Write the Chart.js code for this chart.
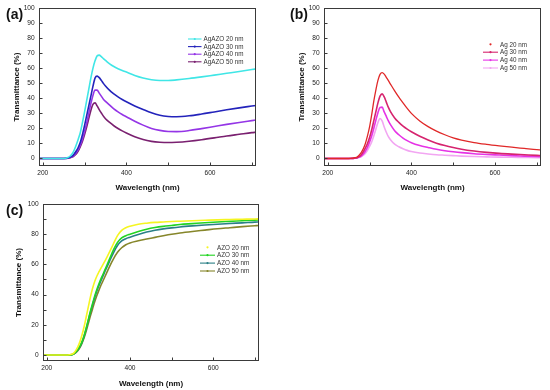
<!DOCTYPE html>
<html><head><meta charset="utf-8">
<script src="https://cdn.jsdelivr.net/npm/chart.js@4.4.1/dist/chart.umd.min.js"></script>
<style>
html,body{margin:0;padding:0;background:#fff;}
#wrap{position:relative;width:550px;height:390px;overflow:hidden;background:#fff;}
canvas{position:absolute;}
.pl{position:absolute;font:bold 14px "Liberation Sans",Arial,sans-serif;color:#111;line-height:14px;}
</style></head><body>
<div id="wrap">
<canvas id="ca" width="265" height="195" style="left:0px;top:0px"></canvas>
<canvas id="cb" width="265" height="195" style="left:285px;top:0px"></canvas>
<canvas id="cc" width="268" height="195" style="left:0px;top:195px"></canvas>
<div class="pl" style="left:6px;top:7px">(a)</div>
<div class="pl" style="left:290px;top:7px">(b)</div>
<div class="pl" style="left:6px;top:203px">(c)</div>
</div>
<script>
// ---------- data ----------
const wavelength = [190,250,260,265,270,275,280,285,290,295,300,305,310,315,320,325,330,335,340,345,350,360,370,380,390,400,420,440,460,480,500,520,550,580,610,640,670,700,710];

// (a) AgAZO
const agazoLabels = ['AgAZO 20 nm','AgAZO 30 nm','AgAZO 40 nm','AgAZO 50 nm'];
const agazo20 = [0,0,0.6,1.5,3,5.5,9,13,17.5,24,31,38.5,46,53.5,60,65,68.3,68.8,67.8,66.5,65.3,63,61.2,59.8,58.6,57.5,55.3,53.6,52.4,51.9,51.9,52.3,53.2,54.3,55.5,56.7,57.9,59.2,59.6];
const agazo30 = [0,0,0.3,0.8,1.5,3,5,7.5,11,16,22,28.5,35,41.5,48,53.5,54.8,53.8,52,50,48.3,45.3,43,41,39.3,37.8,35,32.6,30.4,28.8,28,27.8,28.4,29.6,31,32.4,33.7,34.9,35.3];
const agazo40 = [0,0,0.2,0.6,1.1,2.2,3.8,6,9,13,18,23.5,30,36.5,42,45.5,45.5,43.5,41.5,39.5,38,35.5,33,31,29.3,27.8,24.8,22.2,20,18.7,18,17.9,18.6,19.9,21.3,22.7,24,25.2,25.6];
const agazo50 = [0,0,0.2,0.5,0.9,1.8,3,5,8,11.5,16,21,26.5,32,36,37,35,32.5,30.3,28.2,26.5,24,21.8,20,18.4,17,14.5,12.6,11.4,10.8,10.6,10.8,11.5,12.5,13.7,15,16.1,17.2,17.5];

// (b) Ag
const agLabels = ['Ag 20 nm','Ag 30 nm','Ag 40 nm','Ag 50 nm'];
const ag20 = [0,0,0.2,0.5,1,2.2,4,6.5,10,15,21,29,38,45.5,52,56,57.2,56.2,54,51.8,49.5,45,40.8,37,33.3,30,25,21.2,18.2,15.8,13.8,12.3,10.6,9.4,8.4,7.5,6.7,5.9,5.7];
const ag30 = [0,0,0.1,0.3,0.5,1.2,2.5,4.5,7,10,14,19,25,31,37,41.5,43,41,37.5,34,31.2,27,24,21.5,19.5,17.8,14.8,12.3,10.2,8.6,7.3,6.2,5,4.1,3.4,2.9,2.5,2.1,2.0];
const ag40 = [0,0,0.1,0.2,0.4,0.9,1.6,3,5,7.5,11,15,20,25.5,30.5,34,34.2,31,28,25,22.5,18.5,15.8,13.6,11.9,10.5,8.6,7.3,6.1,5.2,4.5,3.9,3.2,2.7,2.3,1.9,1.6,1.3,1.2];
const ag50 = [0,0,0.1,0.2,0.3,0.7,1.2,2.2,3.5,5.5,8,11,15,19.5,24,26.6,25,21,17.5,14.5,12.5,9.5,7.8,6.5,5.4,4.6,3.6,3,2.5,2.2,1.9,1.6,1.3,1.1,0.9,0.8,0.7,0.6,0.5];

// (c) AZO
const azoLabels = ['AZO 20 nm','AZO 30 nm','AZO 40 nm','AZO 50 nm'];
const azo20 = [0,0,0.4,1.2,3,5.5,9,13.5,19,25.5,32,38.5,44,48.5,52,54.8,57.3,59.8,62.3,65,67.8,73.5,79,82.5,84.3,85.3,86.6,87.3,87.8,88.1,88.4,88.6,88.9,89.2,89.5,89.7,89.9,90.1,90.2];
const azo30 = [0,0,0.2,0.8,2,3.8,6,9,13,18,23.5,29,34,38.8,43,46.8,50.2,53.3,56.5,59.7,63,69.5,74.5,77.5,79,80,81.8,83.3,84.4,85.2,85.8,86.4,87,87.6,88.1,88.5,88.9,89.3,89.4];
const azo40 = [0,0,0.2,0.7,1.8,3.5,5.5,8.5,12.5,17.5,23,28.3,33,37.7,42,45.7,49,52.2,55.5,58.5,61.5,67.5,72.5,75.5,77,78,79.8,81.4,82.6,83.5,84.2,84.8,85.5,86.1,86.6,87.1,87.5,88,88.1];
const azo50 = [0,0,0.2,0.6,1.5,3,5,8,11.5,16,21,26,30.5,35,39,42.6,46,49,52,55,58,63.5,68,71,73,74.2,75.6,76.8,77.9,79,80,80.8,81.8,82.7,83.6,84.3,85,85.6,85.8];

// tick labels
const xTickLabels = [200,400,600];
const xTickMarks = [200,300,400,500,600,700];
const yTicksAB = [0,10,20,30,40,50,60,70,80,90,100];
const yTicksC = [0,20,40,60,80,100];
const yMarksC = [0,10,20,30,40,50,60,70,80,90,100];
const xTitle = 'Wavelength (nm)';
const yTitle = 'Transmittance (%)';

// ---------- drawing ----------
const FONT = '"Liberation Sans", Arial, Helvetica, sans-serif';
Chart.defaults.font.family = FONT;
Chart.defaults.color = '#222';

const frameTicks = {
  id: 'frameTicks',
  afterDatasetsDraw(chart, args, o) {
    const {ctx, chartArea: a, scales: {x, y}} = chart;
    ctx.save();
    ctx.strokeStyle = '#3a3a3a';
    ctx.lineWidth = 1;
    const L = Math.round(a.left) + 0.5, R = Math.round(a.right) - 0.5;
    const T = Math.round(a.top) + 0.5, B = Math.round(a.bottom) - 0.5;
    ctx.strokeRect(L, T, R - L, B - T);
    ctx.beginPath();
    for (const v of o.xMarks) {
      const p = Math.round(x.getPixelForValue(v)) + 0.5;
      ctx.moveTo(p, B); ctx.lineTo(p, B - 3);
    }
    for (const v of o.yMarks) {
      const p = Math.round(y.getPixelForValue(v)) + 0.5;
      ctx.moveTo(L, p); ctx.lineTo(L + 3, p);
    }
    ctx.stroke();
    ctx.restore();
  }
};

const ptLegend = {
  id: 'ptLegend',
  afterDraw(chart, args, o) {
    const ctx = chart.ctx;
    ctx.save();
    ctx.font = o.fontSize + 'px ' + FONT;
    ctx.textBaseline = 'middle';
    ctx.textAlign = 'left';
    chart.data.datasets.forEach((ds, i) => {
      const yy = o.y + i * o.dy;
      ctx.strokeStyle = ds.borderColor;
      ctx.fillStyle = ds.borderColor;
      if (ds.legendLine !== false) {
        ctx.lineWidth = 1.1;
        ctx.beginPath();
        ctx.moveTo(o.x, yy); ctx.lineTo(o.x + o.len, yy);
        ctx.stroke();
      }
      ctx.beginPath();
      ctx.arc(o.x + o.len / 2, yy, 1.1, 0, Math.PI * 2);
      ctx.fill();
      ctx.fillStyle = '#333';
      ctx.fillText(ds.label, o.x + o.len + 2, yy + 0.5);
    });
    ctx.restore();
  }
};

function makeChart(id, labels, series, colors, g) {
  const datasets = series.map((s, i) => ({
    label: labels[i],
    data: wavelength.map((w, k) => ({x: w, y: s[k]})),
    borderColor: colors[i],
    backgroundColor: colors[i],
    borderWidth: g.widths ? g.widths[i] : 1.6,
    pointRadius: 0,
    cubicInterpolationMode: 'monotone',
    fill: false,
    legendLine: g.noLine ? !g.noLine.includes(i) : true
  }));
  return new Chart(document.getElementById(id), {
    type: 'line',
    data: {datasets},
    plugins: [frameTicks, ptLegend],
    options: {
      responsive: false,
      animation: false,
      devicePixelRatio: 1,
      events: [],
      layout: {padding: {top: g.padTop, right: g.padRight, left: 0, bottom: 0}},
      plugins: {
        legend: {display: false},
        tooltip: {enabled: false},
        frameTicks: {xMarks: xTickMarks, yMarks: g.yMarks},
        ptLegend: g.legend
      },
      scales: {
        x: {
          type: 'linear', min: 191, max: 710,
          grid: {display: false, drawTicks: false},
          border: {display: false},
          afterBuildTicks: s => { s.ticks = xTickLabels.map(v => ({value: v})); },
          afterFit: s => { s.height = g.xHeight; },
          ticks: {font: {size: 6.6}, color: '#222', padding: 3.7, maxRotation: 0, autoSkip: false},
          title: {display: true, text: xTitle, font: {size: 8, weight: 'bold'}, color: '#111', padding: {top: 0, bottom: g.xTitlePad}}
        },
        y: {
          type: 'linear', min: g.yMin, max: 100,
          grid: {display: false, drawTicks: false},
          border: {display: false},
          afterBuildTicks: s => { s.ticks = g.yTicks.map(v => ({value: v})); },
          afterFit: s => { s.width = g.yWidth; },
          ticks: {font: {size: 6.6}, color: '#222', padding: 4.3, autoSkip: false},
          title: {display: true, text: yTitle, font: {size: 8, weight: 'bold'}, color: '#111', padding: {top: g.yTitlePad, bottom: 0}}
        }
      }
    }
  });
}

makeChart('ca', agazoLabels, [agazo20, agazo30, agazo40, agazo50],
  ['#40e6e6', '#2323bb', '#9435e6', '#7a2070'],
  {padTop: 7, padRight: 9, yWidth: 39, xHeight: 29, yMin: -5, yTicks: yTicksAB, yMarks: yTicksAB,
   xTitlePad: 2.5, yTitlePad: 12,
   legend: {x: 188, y: 39, dy: 7.6, len: 13.5, fontSize: 6.3}});

makeChart('cb', agLabels, [ag20, ag30, ag40, ag50],
  ['#e02828', '#d6246e', '#e633e6', '#f2a6f2'],
  {padTop: 7, padRight: 9, yWidth: 39, xHeight: 29, yMin: -5, yTicks: yTicksAB, yMarks: yTicksAB,
   xTitlePad: 2.5, yTitlePad: 12, widths: [1.3, 1.6, 1.6, 1.6], noLine: [0],
   legend: {x: 198, y: 44.3, dy: 7.9, len: 15, fontSize: 6.3}});

makeChart('cc', azoLabels, [azo20, azo30, azo40, azo50],
  ['#f5f522', '#22d422', '#2a7f86', '#86862a'],
  {padTop: 9, padRight: 9, yWidth: 43, xHeight: 29, yMin: -4, yTicks: yTicksC, yMarks: yMarksC,
   xTitlePad: 1.9, yTitlePad: 13.5, noLine: [0],
   legend: {x: 200, y: 52.3, dy: 7.9, len: 15, fontSize: 6.3}});
</script>
</body></html>
